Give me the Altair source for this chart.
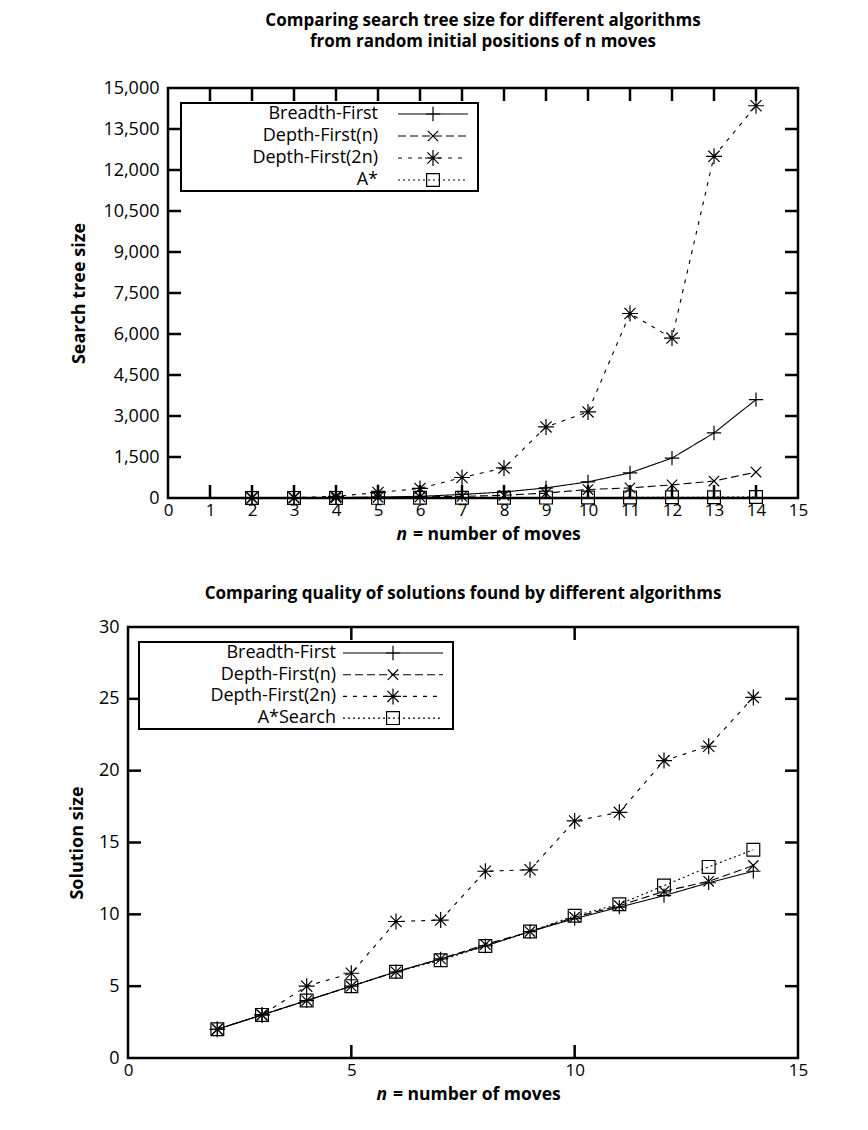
import altair as alt
import pandas as pd

# ---------------- data ----------------
n_moves = list(range(2, 15))
algorithms = ["Breadth-First", "Depth-First(n)", "Depth-First(2n)", "A*"]

tree_labels = ["Breadth-First", "Depth-First(n)", "Depth-First(2n)", "A*"]
tree_bfs = [3, 8, 15, 30, 60, 130, 220, 370, 590, 920, 1460, 2380, 3600]
tree_dfs_n = [2, 5, 10, 25, 40, 60, 100, 180, 310, 370, 480, 620, 950]
tree_dfs_2n = [5, 15, 60, 200, 350, 750, 1100, 2600, 3150, 6750, 5850, 12500, 14350]
tree_astar = [2, 3, 4, 6, 8, 10, 12, 15, 18, 22, 25, 30, 35]

sol_labels = ["Breadth-First", "Depth-First(n)", "Depth-First(2n)", "A*Search"]
sol_bfs = [2, 3, 4, 5, 6, 6.9, 7.8, 8.8, 9.7, 10.5, 11.3, 12.2, 13.0]
sol_dfs_n = [2, 3, 4, 5, 6, 6.9, 7.9, 8.8, 9.8, 10.6, 11.6, 12.3, 13.4]
sol_dfs_2n = [2, 3, 5.0, 5.9, 9.5, 9.6, 13.0, 13.1, 16.5, 17.1, 20.7, 21.7, 25.1]
sol_astar = [2, 3, 4, 5, 6, 6.8, 7.8, 8.8, 9.9, 10.7, 12.0, 13.3, 14.5]

tree_x_ticks = list(range(0, 16))
tree_y_ticks = [0, 1500, 3000, 4500, 6000, 7500, 9000, 10500, 12000, 13500, 15000]
sol_x_ticks = [0, 5, 10, 15]
sol_y_ticks = [0, 5, 10, 15, 20, 25, 30]

x_title_var = "n"
x_title_rest = "= number of moves"

FONT = "Open Sans"
SHAPES = [
    "M-0.9,0L0.9,0M0,-0.9L0,0.9",
    "M-0.65,-0.65L0.65,0.65M-0.65,0.65L0.65,-0.65",
    "M-1,0L1,0M0,-1L0,1M-0.7,-0.7L0.7,0.7M-0.7,0.7L0.7,-0.7",
    "M-0.8,-0.8L0.8,-0.8L0.8,0.8L-0.8,0.8Z",
]
DASHES = [[1, 0], [8, 4], [4, 6], [2, 3]]
TICK = 13
W = 670  # group width for both panels


def panel(series_vals, labels, x0, H, ymax, yticks, xticks, yfmt, title,
          title_offset, ytitle, ytitle_pad, leg):
    rows = []
    for algo, vals in zip(algorithms, series_vals):
        for n, v in zip(n_moves, vals):
            rows.append({"n": n, "value": v, "algo": algo})
    df = pd.DataFrame(rows)
    cx = (x0 + W) / 2

    x = alt.X("n:Q", scale=alt.Scale(domain=[0, 15], nice=False, zero=False, range=[x0, W]),
              axis=alt.Axis(values=xticks, title=None, ticks=False, labelFontSize=17,
                            domain=False, grid=False, labelPadding=4, labelFlush=False))
    y = alt.Y("value:Q", scale=alt.Scale(domain=[0, ymax], nice=False),
              axis=alt.Axis(values=yticks, format=yfmt, title=ytitle, ticks=False,
                            domain=False, grid=False, labelPadding=9, labelFlush=False,
                            titlePadding=ytitle_pad, offset=-x0))

    base = alt.Chart(df)
    lines = base.mark_line(color="black", strokeWidth=1.1).encode(
        x=x, y=y,
        strokeDash=alt.StrokeDash("algo:N", scale=alt.Scale(domain=algorithms, range=DASHES),
                                  legend=None),
    )
    pts = base.mark_point(filled=False, color="black", strokeWidth=1.2, size=256,
                          opacity=1).encode(
        x="n:Q", y="value:Q",
        shape=alt.Shape("algo:N", scale=alt.Scale(domain=algorithms, range=SHAPES),
                        legend=None),
    )

    inner_x = [t for t in xticks if 0 < t < 15]
    inner_y = [t for t in yticks if 0 < t < ymax]
    xt = pd.DataFrame({"n": inner_x})
    yt = pd.DataFrame({"value": inner_y})
    rule_kw = dict(color="black", strokeWidth=2.5)
    t_top = alt.Chart(xt).mark_rule(**rule_kw).encode(
        x="n:Q", y=alt.value(0), y2=alt.value(TICK))
    t_bot = alt.Chart(xt).mark_rule(**rule_kw).encode(
        x="n:Q", y=alt.value(H), y2=alt.value(H - TICK))
    t_left = alt.Chart(yt).mark_rule(**rule_kw).encode(
        y="value:Q", x=alt.value(x0), x2=alt.value(x0 + TICK))
    t_right = alt.Chart(yt).mark_rule(**rule_kw).encode(
        y="value:Q", x=alt.value(W - TICK), x2=alt.value(W))

    one = alt.Data(values=[{}])
    frame = alt.Chart(one).mark_rect(fill="transparent", stroke="black",
                                     strokeWidth=2.5).encode(
        x=alt.value(x0), x2=alt.value(W), y=alt.value(0), y2=alt.value(H))

    # x-axis title with italic variable name
    xt_n = alt.Chart(one).mark_text(text=x_title_var, align="right", baseline="middle",
                                    font=FONT, fontSize=17.5, fontWeight="bold",
                                    fontStyle="italic", color="black").encode(
        x=alt.value(cx - 76), y=alt.value(H + 37))
    xt_rest = alt.Chart(one).mark_text(text=x_title_rest, align="left", baseline="middle",
                                       font=FONT, fontSize=17.5, fontWeight="bold",
                                       color="black").encode(
        x=alt.value(cx - 70), y=alt.value(H + 37))

    legend_layers = [
        alt.Chart(one).mark_rect(fill="white", stroke="black", strokeWidth=2).encode(
            x=alt.value(x0 + leg["box"][0]), x2=alt.value(x0 + leg["box"][1]),
            y=alt.value(leg["box"][2]), y2=alt.value(leg["box"][3]))
    ]
    for i, lab in enumerate(labels):
        yy = leg["row0"] + i * leg["dy"]
        legend_layers.append(
            alt.Chart(one).mark_text(text=lab, align="right", baseline="middle",
                                     font=FONT, fontSize=18, color="black").encode(
                x=alt.value(x0 + leg["text_x"]), y=alt.value(yy)))
        legend_layers.append(
            alt.Chart(one).mark_rule(color="black", strokeWidth=1.1,
                                     strokeDash=DASHES[i]).encode(
                x=alt.value(x0 + leg["s0"]), x2=alt.value(x0 + leg["s1"]), y=alt.value(yy)))
        legend_layers.append(
            alt.Chart(one).mark_point(shape=SHAPES[i], size=256, filled=False,
                                      color="black", strokeWidth=1.2, opacity=1).encode(
                x=alt.value(x0 + leg["m"]), y=alt.value(yy)))

    return alt.layer(lines, pts, t_top, t_bot, t_left, t_right, *legend_layers,
                     frame, xt_n, xt_rest).properties(
        width=W, height=H,
        title=alt.Title(title, fontSize=17, font=FONT, fontWeight="bold", color="black",
                        anchor="middle", offset=title_offset, lineHeight=21, dx=x0 / 2),
    )


top = panel([tree_bfs, tree_dfs_n, tree_dfs_2n, tree_astar], tree_labels,
            40, 410, 15000, tree_y_ticks, tree_x_ticks, ",d",
            ["Comparing search tree size for different algorithms",
             "from random initial positions of n moves"], 28,
            "Search tree size", 14,
            dict(box=(13, 310, 15, 103), row0=26, dy=22, text_x=210, s0=230, s1=300, m=265))

bottom = panel([sol_bfs, sol_dfs_n, sol_dfs_2n, sol_astar], sol_labels,
               0, 431, 30, sol_y_ticks, sol_x_ticks, "d",
               "Comparing quality of solutions found by different algorithms", 15,
               "Solution size", 12,
               dict(box=(11, 325, 15, 102), row0=26, dy=21.7, text_x=208, s0=215, s1=315, m=265))

chart = alt.vconcat(top, bottom, spacing=41).properties(
    padding={"left": 60, "top": 4, "right": 5, "bottom": 5},
    background="white",
).configure_view(strokeWidth=0).configure_axis(
    labelFont=FONT, labelFontSize=18, labelColor="black",
    titleFont=FONT, titleFontSize=18, titleFontWeight="bold", titleColor="black",
)

chart.save("out.html", embed_options={"renderer": "svg", "actions": False})
